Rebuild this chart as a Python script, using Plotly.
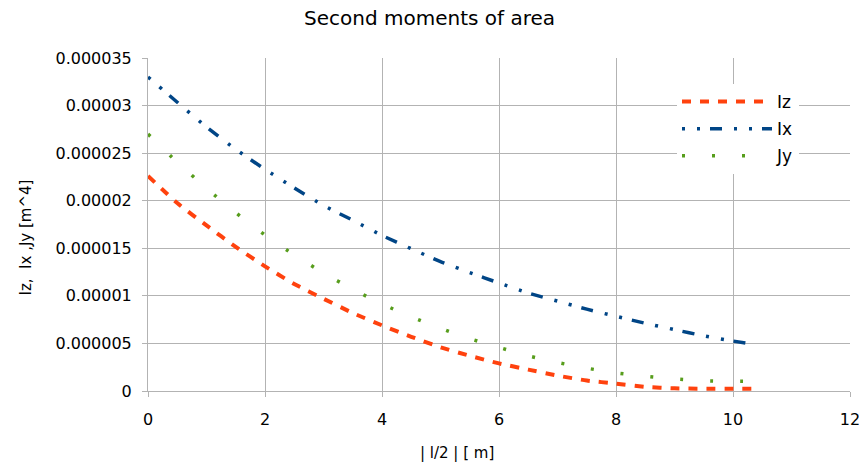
import plotly.graph_objects as go

# ---- data ----
x_len = [0, 0.5, 1, 1.5, 2, 2.5, 3, 3.5, 4, 4.5, 5, 5.5, 6, 6.5, 7, 7.5, 8, 8.5, 9, 9.5, 10, 10.35]

Iz = [22.6e-6, 19.75e-6, 17.4e-6, 15.15e-6, 13.1e-6, 11.25e-6, 9.7e-6, 8.2e-6, 6.9e-6, 5.7e-6,
      4.6e-6, 3.7e-6, 2.9e-6, 2.25e-6, 1.62e-6, 1.1e-6, 0.78e-6, 0.44e-6, 0.28e-6, 0.24e-6,
      0.24e-6, 0.24e-6]

Ix = [33.0e-6, 30.35e-6, 27.75e-6, 25.4e-6, 23.3e-6, 21.35e-6, 19.5e-6, 17.95e-6, 16.35e-6, 14.95e-6,
      13.6e-6, 12.45e-6, 11.35e-6, 10.3e-6, 9.45e-6, 8.6e-6, 7.85e-6, 7.12e-6, 6.45e-6, 5.8e-6,
      5.25e-6, 4.9e-6]

Jy = [27.0e-6, 24.05e-6, 21.3e-6, 18.75e-6, 16.4e-6, 14.3e-6, 12.4e-6, 10.7e-6, 9.15e-6, 7.8e-6,
      6.6e-6, 5.5e-6, 4.58e-6, 3.7e-6, 3.0e-6, 2.4e-6, 1.9e-6, 1.55e-6, 1.27e-6, 1.07e-6,
      1.02e-6, 1.02e-6]

series_names = ["Iz", "Ix", "Jy"]
title_text = "Second moments of area"
x_title = "| l/2 | [ m]"
y_title = "Iz,\u00a0 Ix ,Jy [m^4]"

FONT = "DejaVu Sans"
GRID = "#b3b3b3"

W, H = 859, 468
L, T, R, B = 148, 58, 9, 77
PW = W - L - R
PH = H - T - B

fig = go.Figure()
fig.add_trace(go.Scatter(x=x_len, y=Iz, name=series_names[0], mode="lines", legendgroup="a",
                         line=dict(color="#ff420e", width=4, dash="9px,9px", shape="spline", smoothing=0.6)))
fig.add_trace(go.Scatter(x=x_len, y=Ix, name=series_names[1], mode="lines", legendgroup="b",
                         line=dict(color="#004586", width=3.5, dash="3px,12px,3px,10px,12px,12px",
                                   shape="spline", smoothing=0.6)))
fig.add_trace(go.Scatter(x=x_len, y=Jy, name=series_names[2], mode="lines", legendgroup="c",
                         line=dict(color="#579d1c", width=3.5, dash="3px,27px", shape="spline", smoothing=0.6)))

fig.update_layout(
    width=W, height=H,
    margin=dict(l=L, r=R, t=T, b=B, autoexpand=False),
    paper_bgcolor="white", plot_bgcolor="white",
    font=dict(family=FONT, size=15, color="#000000"),
    title=dict(text=title_text, x=0.5, xanchor="center", y=1 - 18 / H, yanchor="middle",
               font=dict(family=FONT, size=20, color="#000000")),
    showlegend=True,
    legend=dict(x=(677 - L) / PW, y=(391 - 84) / PH, xanchor="left", yanchor="top", bgcolor="white",
                borderwidth=0, font=dict(family=FONT, size=17, color="#000000"),
                itemwidth=90, tracegroupgap=2),
    xaxis=dict(range=[0, 12], dtick=2, tick0=0, showgrid=True, gridcolor=GRID, gridwidth=1,
               showline=True, linecolor=GRID, linewidth=1, mirror=False,
               ticks="outside", ticklen=5, tickcolor=GRID, zeroline=False,
               ticklabelstandoff=9, ticklabeloverflow="allow",
               tickfont=dict(family=FONT, size=16, color="#000000")),
    yaxis=dict(range=[0, 35e-6], dtick=5e-6, tick0=0, tickformat=".6~f",
               showgrid=True, gridcolor=GRID, gridwidth=1,
               showline=True, linecolor=GRID, linewidth=1,
               ticks="outside", ticklen=5, tickcolor=GRID, zeroline=False,
               ticklabelstandoff=7,
               tickfont=dict(family=FONT, size=16, color="#000000")),
    annotations=[
        dict(text=x_title, xref="paper", yref="paper", x=(457 - L) / PW, y=-(453 - 391) / PH,
             xanchor="center", yanchor="middle", showarrow=False,
             font=dict(family=FONT, size=15, color="#000000")),
        dict(text=y_title, xref="paper", yref="paper", x=-(L - 25) / PW, y=(391 - 237.5) / PH,
             xanchor="center", yanchor="middle", textangle=-90, showarrow=False,
             font=dict(family=FONT, size=15, color="#000000")),
    ],
)

# remove the default 8px page margin so the figure fills the window exactly
fig.write_html("out.html", config={"displayModeBar": False},
               post_script="document.body.style.margin='0';document.body.style.overflow='hidden';")
